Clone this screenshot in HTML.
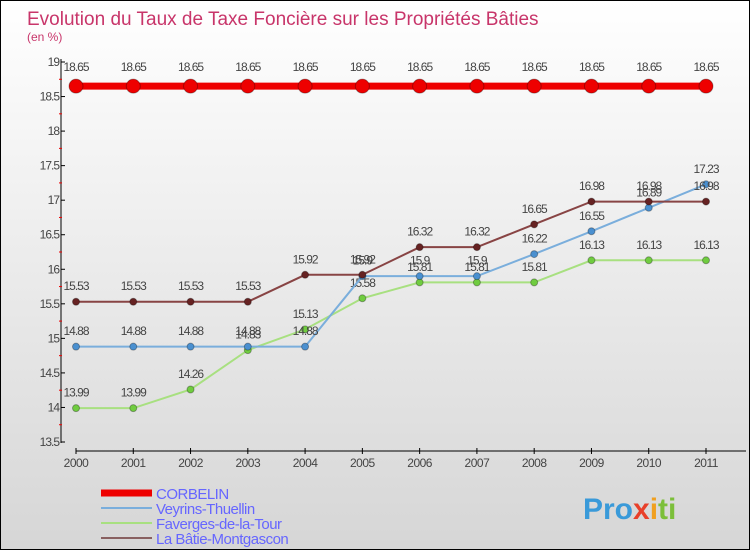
<!DOCTYPE html>
<html><head><meta charset="utf-8"><style>
body{margin:0}
#c{width:750px;height:550px;position:relative;box-sizing:border-box;border:1px solid #000;background:linear-gradient(#ffffff,#d6d6d6);font-family:"Liberation Sans",sans-serif;overflow:hidden}
</style></head><body>
<div id="c">
<svg id="s" width="750" height="550" style="position:absolute;left:0;top:0">
<text x="26" y="24" font-size="19" fill="#c8356a">Evolution du Taux de Taxe Foncière sur les Propriétés Bâties</text>
<text x="26" y="40" font-size="12" fill="#c8356a">(en %)</text>
<text x="582" y="518" font-size="30" font-weight="bold" fill="#3a9ad9">Pro<tspan fill="#e8402a">x</tspan><tspan fill="#f0a020">i</tspan><tspan fill="#7cbf3a">ti</tspan></text>
</svg>
</div>
<script>
const years=[2000,2001,2002,2003,2004,2005,2006,2007,2008,2009,2010,2011];
const corbelin=[18.65,18.65,18.65,18.65,18.65,18.65,18.65,18.65,18.65,18.65,18.65,18.65];
const veyrins=[14.88,14.88,14.88,14.88,14.88,15.9,15.9,15.9,16.22,16.55,16.89,17.23];
const faverges=[13.99,13.99,14.26,14.83,15.13,15.58,15.81,15.81,15.81,16.13,16.13,16.13];
const batie=[15.53,15.53,15.53,15.53,15.92,15.92,16.32,16.32,16.65,16.98,16.98,16.98];
const yTicks=[13.5,14,14.5,15,15.5,16,16.5,17,17.5,18,18.5,19];
const s=document.getElementById('s');const NS='http://www.w3.org/2000/svg';
function X(i){return 75+i*(630/(years.length-1));}
function Y(v){return 441-(v-13.5)*(380/5.5);}
function el(t,a,p){const e=document.createElementNS(NS,t);for(const k in a)e.setAttribute(k,a[k]);(p||s).appendChild(e);return e;}
let ax=el('line',{x1:60,y1:58,x2:60,y2:442,stroke:'#000','stroke-width':1});


let xa=el('line',{x1:75,y1:450,x2:745,y2:450,stroke:'#000','stroke-width':1});


yTicks.forEach(v=>{
 el('line',{x1:60,y1:Y(v),x2:64,y2:Y(v),stroke:'#000'});
 el('line',{x1:58,y1:Y(v+0.25),x2:61,y2:Y(v+0.25),stroke:v<19?'#e00':'none'});
 const t=el('text',{x:58,y:Y(v)+4,'font-size':12,fill:'#444','text-anchor':'end','letter-spacing':'-1'});t.textContent=String(v);
 
 
});
years.forEach((y,i)=>{
 el('line',{x1:X(i),y1:447,x2:X(i),y2:453,stroke:'#000'});
 const t=el('text',{x:X(i),y:466,'font-size':12,fill:'#444','text-anchor':'middle','letter-spacing':'-0.5'});t.textContent=y;
 
 
});
function series(d,col,dot,w,r,name){
 const g=el('g',{});
 
 
 el('polyline',{points:d.map((v,i)=>X(i)+','+Y(v)).join(' '),fill:'none',stroke:col,'stroke-width':w},g);
 d.forEach((v,i)=>{
  const c=el('circle',{cx:X(i),cy:Y(v),r:r,fill:dot,stroke:'rgba(0,0,0,0.3)','stroke-width':1},g);
  
  
  const t=el('text',{x:X(i),y:Y(v)-(r+8),'font-size':12,fill:'#444','text-anchor':'middle','letter-spacing':'-1'},g);t.textContent=String(v);
  
  
 });
}
series(faverges,'#a8e080','#70cc40',2,3.5,'series-faverges');
series(veyrins,'#7aaedc','#4a90d0',2,3.5,'series-veyrins');
series(batie,'#884444','#662222',2,3.5,'series-batie');
series(corbelin,'#ee0000','#ee0000',7,7,'series-corbelin');
const legend=[['CORBELIN','#ee0000',7],['Veyrins-Thuellin','#7aaedc',2],['Faverges-de-la-Tour','#a8e080',2],['La Bâtie-Montgascon','#886060',2]];
legend.forEach((l,i)=>{
 const y=492+i*15;
 const g=el('g',{});
 
 
 el('line',{x1:100,y1:y,x2:151,y2:y,stroke:l[1],'stroke-width':l[2]},g);
 const t=el('text',{x:155,y:y+6,'font-size':15,fill:'#6666ff','letter-spacing':'-0.5'},g);t.textContent=l[0];
});
</script>
</body></html>
